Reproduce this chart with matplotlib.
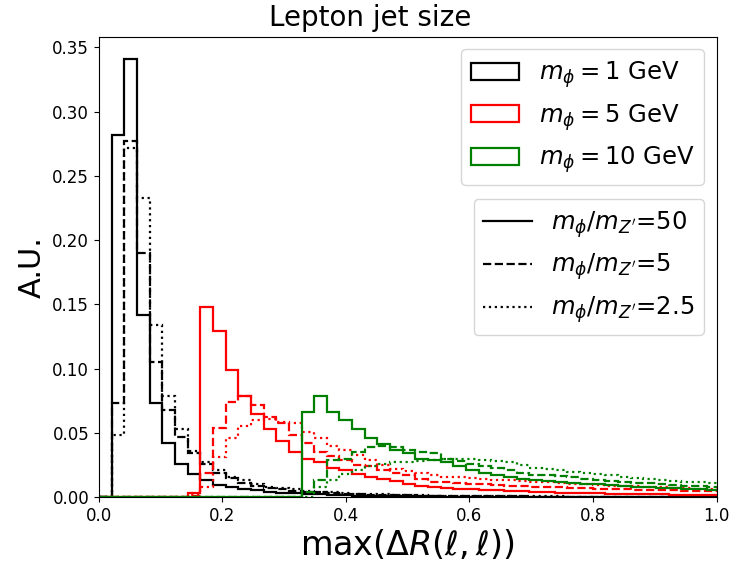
import numpy as np
import matplotlib
matplotlib.use('Agg')
import matplotlib.pyplot as plt
from matplotlib.patches import Patch
from matplotlib.lines import Line2D

# bin edges of the histograms (width ~0.0205)
edges = np.arange(50) * 0.0205

# m_phi = 1 GeV
m1_r50 = [0, 0.282, 0.341, 0.142, 0.073, 0.042, 0.026, 0.018, 0.013, 0.0095,
          0.008, 0.0065, 0.0052, 0.0043, 0.0036, 0.003, 0.0025, 0.0021, 0.0018, 0.0015,
          0.0012, 0.001, 0.0009, 0.0008, 0.0007, 0.0006, 0.0005, 0.0004, 0.0004, 0.0003,
          0.0003, 0.0003, 0.0002, 0.0002, 0.0002, 0.0002, 0.0001, 0.0001, 0.0001, 0.0001,
          0.0001, 0.0001, 0.0001, 0.0001, 0.0001, 0.0001, 0.0001, 0.0001, 0.0001]
m1_r5 = [0, 0.073, 0.277, 0.190, 0.105, 0.068, 0.047, 0.034, 0.026, 0.019,
         0.015, 0.011, 0.009, 0.007, 0.006, 0.005, 0.0043, 0.0037, 0.0032, 0.0028,
         0.0024, 0.002, 0.0018, 0.0016, 0.0014, 0.0012, 0.001, 0.0009, 0.0008, 0.0007,
         0.0006, 0.0006, 0.0005, 0.0005, 0.0004, 0.0004, 0.0003, 0.0003, 0.0003, 0.0002,
         0.0002, 0.0002, 0.0002, 0.0002, 0.0002, 0.0002, 0.0002, 0.0002, 0.0002]
m1_r25 = [0, 0.048, 0.272, 0.233, 0.134, 0.079, 0.053, 0.036, 0.027, 0.021,
          0.016, 0.013, 0.010, 0.008, 0.007, 0.006, 0.005, 0.0043, 0.0037, 0.0032,
          0.0028, 0.0024, 0.0021, 0.0018, 0.0016, 0.0014, 0.0012, 0.0011, 0.001, 0.0009,
          0.0008, 0.0007, 0.0007, 0.0006, 0.0006, 0.0005, 0.0005, 0.0004, 0.0004, 0.0004,
          0.0003, 0.0003, 0.0003, 0.0003, 0.0003, 0.0003, 0.0003, 0.0003, 0.0003]

# m_phi = 5 GeV
m5_r50 = [0, 0, 0, 0, 0, 0, 0, 0.003, 0.148, 0.129,
          0.099, 0.079, 0.065, 0.053, 0.044, 0.035, 0.030, 0.027, 0.023, 0.021,
          0.018, 0.016, 0.014, 0.0124, 0.0106, 0.009, 0.008, 0.0073, 0.0067, 0.0062,
          0.0057, 0.0053, 0.0049, 0.0045, 0.0042, 0.0039, 0.0036, 0.0033, 0.0031, 0.0029,
          0.0027, 0.0025, 0.0023, 0.0022, 0.0021, 0.002, 0.0019, 0.0018, 0.0017]
m5_r5 = [0, 0, 0, 0, 0, 0, 0, 0.001, 0.019, 0.054,
         0.074, 0.079, 0.0715, 0.0625, 0.0575, 0.048, 0.042, 0.0355, 0.032, 0.029,
         0.025, 0.024, 0.021, 0.0187, 0.017, 0.014, 0.012, 0.0115, 0.011, 0.0105,
         0.010, 0.0095, 0.009, 0.0085, 0.008, 0.0078, 0.0075, 0.0072, 0.007, 0.0067,
         0.0064, 0.0061, 0.0058, 0.0056, 0.0054, 0.0052, 0.005, 0.0048, 0.0046]
m5_r25 = [0, 0, 0, 0, 0, 0, 0, 0.002, 0.008, 0.031,
          0.046, 0.055, 0.060, 0.061, 0.0585, 0.0575, 0.051, 0.046, 0.040, 0.037,
          0.0327, 0.0288, 0.025, 0.022, 0.020, 0.0187, 0.017, 0.0158, 0.0155, 0.0148,
          0.014, 0.0135, 0.013, 0.0125, 0.012, 0.0115, 0.011, 0.0105, 0.010, 0.0095,
          0.009, 0.0087, 0.0083, 0.008, 0.0077, 0.0073, 0.007, 0.0067, 0.0064]

# m_phi = 10 GeV
m10_r50 = [0, 0, 0, 0, 0, 0, 0, 0, 0, 0,
           0, 0, 0, 0, 0, 0, 0.066, 0.079, 0.066, 0.060,
           0.053, 0.046, 0.041, 0.0365, 0.0345, 0.030, 0.029, 0.027, 0.024, 0.021,
           0.019, 0.017, 0.016, 0.0145, 0.013, 0.0122, 0.0115, 0.011, 0.0105, 0.010,
           0.0093, 0.0087, 0.0082, 0.0077, 0.0072, 0.0068, 0.0064, 0.006, 0.0057]
m10_r5 = [0, 0, 0, 0, 0, 0, 0, 0, 0, 0,
          0, 0, 0, 0, 0, 0, 0.004, 0.013, 0.029, 0.030,
          0.035, 0.039, 0.040, 0.039, 0.037, 0.035, 0.034, 0.030, 0.028, 0.026,
          0.024, 0.0225, 0.021, 0.019, 0.0175, 0.017, 0.0165, 0.016, 0.0145, 0.0135,
          0.0128, 0.012, 0.0113, 0.0107, 0.010, 0.0095, 0.009, 0.0085, 0.008]
m10_r25 = [0, 0, 0, 0, 0, 0, 0, 0, 0, 0,
           0, 0, 0, 0, 0, 0, 0, 0.008, 0.013, 0.018,
           0.021, 0.024, 0.026, 0.027, 0.0275, 0.028, 0.029, 0.0295, 0.030, 0.030,
           0.029, 0.028, 0.027, 0.025, 0.023, 0.022, 0.021, 0.0197, 0.0187, 0.0178,
           0.017, 0.016, 0.015, 0.0142, 0.0135, 0.0127, 0.012, 0.0115, 0.011]

masses = ['1', '5', '10']
colors = ['black', 'red', 'green']
ratios = ['50', '5', '2.5']
styles = ['solid', 'dashed', 'dotted']
series = [[m1_r50, m1_r5, m1_r25],
          [m5_r50, m5_r5, m5_r25],
          [m10_r50, m10_r5, m10_r25]]

fig = plt.figure(figsize=(7.33, 5.63), dpi=100)
ax = fig.add_axes([0.135, 0.117, 0.8425, 0.817])

for c, group in zip(colors, series):
    for ls, vals in zip(styles, group):
        ax.hist(edges[:-1], bins=edges, weights=vals, histtype='step',
                color=c, linestyle=ls, linewidth=1.6)

ax.set_xlim(0, 1)
fig.text(0.505, 0.968, 'Lepton jet size', fontsize=20, ha='center', va='center')
ax.set_xlabel(r'max($\Delta R(\ell,\ell)$)', fontsize=24, labelpad=2)
ax.set_ylabel('A.U.', fontsize=22)
ax.tick_params(labelsize=12)

# legend for the masses
h1 = [Patch(facecolor='white', edgecolor=c, linewidth=1.6) for c in colors]
l1 = [r'$m_\phi = %s$ GeV' % m for m in masses]
leg1 = ax.legend(h1, l1, loc='upper right', fontsize=17.5)
ax.add_artist(leg1)

# legend for the mass ratios
h2 = [Line2D([], [], color='black', linestyle=ls, linewidth=1.6) for ls in styles]
l2 = [r"$m_\phi/m_{Z'}$=%s" % r for r in ratios]
ax.legend(h2, l2, loc='center right', fontsize=17.5)

fig.savefig('out.png', dpi=100)
